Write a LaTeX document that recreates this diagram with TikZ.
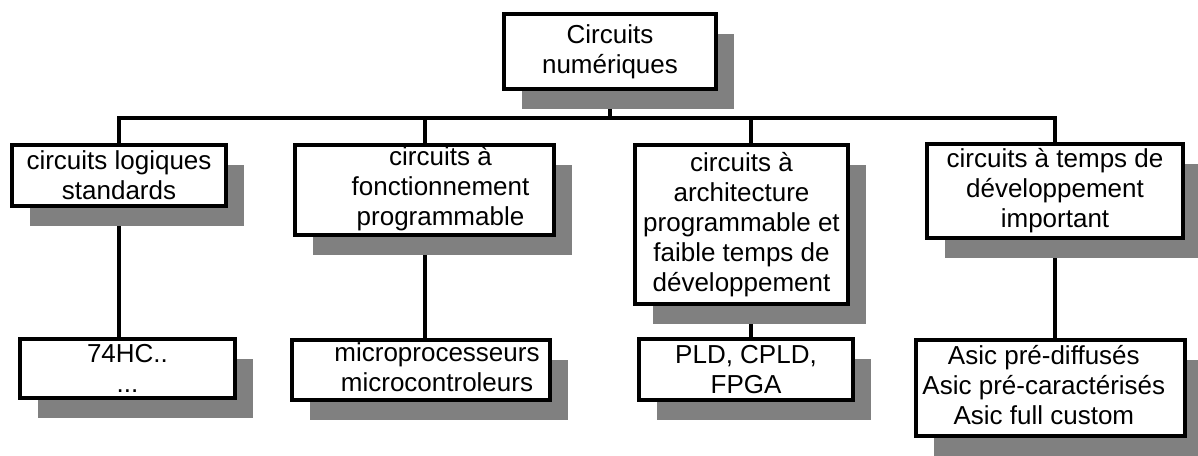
\documentclass[tikz,border=0pt]{standalone}
\usepackage{fontspec}
\setmainfont{Liberation Sans}
\usetikzlibrary{shadows,backgrounds}

\tikzset{box/.style={draw, line width=3pt, fill=white, align=center, inner xsep=2pt, inner ysep=0pt,
    drop shadow={shadow xshift=13.5pt, shadow yshift=-15pt, fill=black!50, opacity=1}},
  link/.style={line width=3pt}}

\begin{document}
\begin{tikzpicture}[x=0.75pt,y=-0.75pt,font=\fontsize{19.5}{22.5}\selectfont]
\useasboundingbox (0,0) rectangle (1198,455);
% top
\node[box,minimum width=159pt,minimum height=56.25pt] (root) at (610,51.5) {Circuits\\numériques};
\coordinate (bus) at (0,118);
% first row
\node[box,minimum width=160.5pt,minimum height=45.75pt] (n1) at (119,175.5) {circuits logiques\\standards};
\node[box,minimum width=194.25pt,minimum height=66.75pt] (n2) at (424.5,189.5)
  {\hskip24pt\begin{tabular}{@{}c@{}}circuits à\\fonctionnement\\programmable\end{tabular}};
\node[box,minimum width=159.75pt,minimum height=119.25pt] (n3) at (741.5,224.5)
  {circuits à\\architecture\\programmable et\\faible temps de\\développement};
\node[box,minimum width=192pt,minimum height=70.5pt] (n4) at (1055,191) {circuits à temps de\\développement\\important};
% second row
\node[box,minimum width=161.25pt,minimum height=44.25pt] (m1) at (127.5,368.5) {74HC..\\...};
\node[box,minimum width=193.5pt,minimum height=45pt] (m2) at (421,370)
  {\hskip24pt\begin{tabular}{@{}c@{}}microprocesseurs\\microcontroleurs\end{tabular}};
\node[box,minimum width=160.5pt,minimum height=45.75pt] (m3) at (746,369.5) {PLD, CPLD,\\FPGA};
\node[box,minimum width=201.75pt,minimum height=72pt] (m4) at (1050.5,388)
  {\begin{tabular}{@{}c@{}}Asic pré-diffusés\\Asic pré-caractérisés\\Asic full custom\end{tabular}\hskip10pt};

\begin{pgfonlayer}{background}
\draw[link] (root.south) -- (root.south |- bus);
\draw[link] (n1.north) |- (n4.north |- bus) -- (n4.north);
\draw[link] (n2.north) -- (n2.north |- bus);
\draw[link] ([xshift=7pt]n3.north) -- ([xshift=7pt]n3.north |- bus);
\draw[link] (n1.south) -- (n1.south |- m1.north);
\draw[link] (n2.south) -- (n2.south |- m2.north);
\draw[link] ([xshift=7pt]n3.south) -- ([xshift=7pt]n3.south |- m3.north);
\draw[link] (n4.south) -- (n4.south |- m4.north);
\end{pgfonlayer}
\end{tikzpicture}
\end{document}
